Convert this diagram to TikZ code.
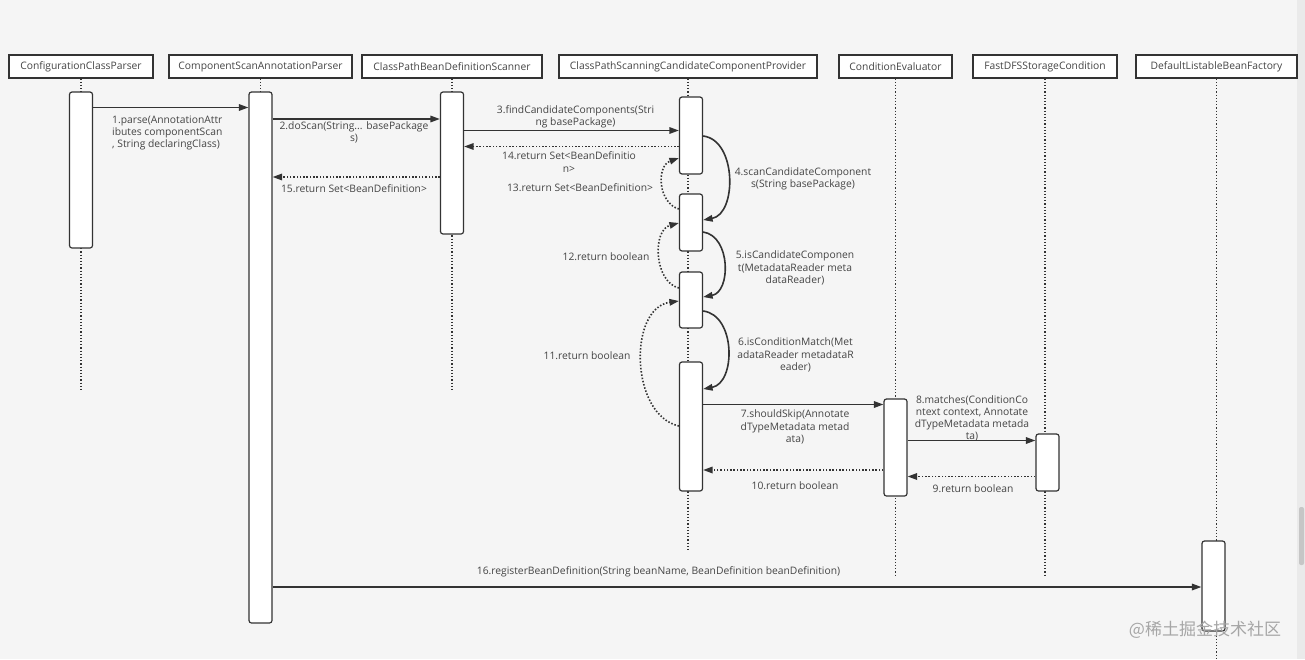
\documentclass[tikz,border=0pt]{standalone}
\usepackage{fontspec}
\setmainfont{Open Sans}
\newfontfamily\cjkfont{Noto Sans CJK SC}
\usetikzlibrary{arrows.meta}
\definecolor{bg}{HTML}{F5F5F5}
\definecolor{ink}{HTML}{333333}
\definecolor{txt}{HTML}{444444}
\definecolor{sbar}{HTML}{EAEAEA}
\definecolor{sthumb}{HTML}{C6C6C6}
\begin{document}
\begin{tikzpicture}[x=1pt,y=-1pt,
  every node/.style={font=\fontsize{10.3}{12.2}\selectfont, text=txt},
  head/.style={draw=ink, fill=white, line width=1.1pt, minimum height=23pt, inner sep=0pt},
  act/.style={draw=ink, fill=white, line width=1.2pt, rounded corners=2.5pt, minimum width=23pt, inner sep=0pt},
  life/.style={draw=ink, line width=1.3pt, dash pattern=on 1.3pt off 1.9pt},
  msg/.style={draw=ink, line width=1.6pt, -{Triangle[length=9.5pt,width=6.5pt]}},
  ret/.style={msg, dash pattern=on 1.5pt off 1.8pt},
  lbl/.style={align=center, inner sep=0pt},
]
\useasboundingbox (0,0) rectangle (1305,659);
\fill[bg] (0,0) rectangle (1305,659);
% scrollbar
\fill[sbar] (1297,0) rectangle (1305,659);
\fill[sthumb, rounded corners=2pt] (1299,507) rectangle (1304,565);

% headers
\node[head, minimum width=144pt] (h1) at (81,66.5) {ConfigurationClassParser};
\node[head, minimum width=183pt] (h2) at (260.5,66.5) {ComponentScanAnnotationParser};
\node[head, minimum width=180pt] (h3) at (452,66.5) {ClassPathBeanDefinitionScanner};
\node[head, minimum width=258pt] (h4) at (688,66.5) {ClassPathScanningCandidateComponentProvider};
\node[head, minimum width=113pt] (h5) at (895.5,66.5) {ConditionEvaluator};
\node[head, minimum width=144pt] (h6) at (1045,66.5) {FastDFSStorageCondition};
\node[head, minimum width=161pt] (h7) at (1216.5,66.5) {DefaultListableBeanFactory};

% lifeline ends
\coordinate (e1) at (81,392);
\coordinate (e2) at (260.5,600);
\coordinate (e3) at (452,392);
\coordinate (e4) at (688,552);
\coordinate (e5) at (895.5,575);
\coordinate (e6) at (1045,575);
\coordinate (e7) at (1216.5,659);
\foreach \i in {1,...,7} \draw[life] (h\i.south) -- (e\i);

% activations
\node[act, minimum height=156pt] (a1) at (81,170) {};
\node[act, minimum height=531pt] (a2) at (260.5,357.5) {};
\node[act, minimum height=142pt] (a3) at (452,163) {};
\node[act, minimum height=77pt] (p1) at (691,135.5) {};
\node[act, minimum height=57pt] (p2) at (691,222.5) {};
\node[act, minimum height=56pt] (p3) at (691,300) {};
\node[act, minimum height=129pt] (p4) at (691,426.5) {};
\node[act, minimum height=97pt] (c1) at (895.5,447.5) {};
\node[act, minimum height=57pt] (f1) at (1047.5,462.5) {};
\node[act, minimum height=90pt] (d1) at (1213.5,586) {};

% messages
\draw[msg] (a1.east |- 0,107.5) -- (a2.west |- 0,107.5);
\node[lbl, align=left, anchor=west] (l1) at (112,133) {1.parse(AnnotationAttr\\ibutes componentScan\\, String declaringClass)};

\draw[msg] (a2.east |- 0,119) -- (a3.west |- 0,119);
\node[lbl] (l2) at (354,132) {2.doScan(String... basePackage\\s)};

\draw[msg] (a3.east |- 0,130.5) -- (p1.west |- 0,130.5);
\node[lbl] (l3) at (575.5,116.5) {3.findCandidateComponents(Stri\\ng basePackage)};

\draw[ret] (p1.west |- 0,146.5) -- (a3.east |- 0,146.5);
\node[lbl] (l14) at (569,162) {14.return Set<BeanDefinitio\\n>};

\draw[ret] (a3.west |- 0,177) -- (a2.east |- 0,177);
\node[lbl] (l15) at (354,189) {15.return Set<BeanDefinition>};

\draw[msg] (p1.east |- 0,136) .. controls (737,140) and (737,214) .. (p2.east |- 0,220);
\node[lbl] (l4) at (803,179) {4.scanCandidateComponent\\s(String basePackage)};

\draw[ret] (p2.west |- 0,209) .. controls (658,203) and (656,166) .. (p1.west |- 0,158);
\node[lbl] (l13) at (580,188) {13.return Set<BeanDefinition>};

\draw[msg] (p2.east |- 0,232) .. controls (731,236) and (731,292) .. (p3.east |- 0,297);
\node[lbl] (l5) at (795,268) {5.isCandidateComponen\\t(MetadataReader meta\\dataReader)};

\draw[ret] (p3.west |- 0,288) .. controls (654,282) and (652,230) .. (p2.west |- 0,223);
\node[lbl] (l12) at (606,257) {12.return boolean};

\draw[msg] (p3.east |- 0,311) .. controls (736,315) and (736,383) .. (p4.east |- 0,389);
\node[lbl] (l6) at (795.5,355) {6.isConditionMatch(Met\\adataReader metadataR\\eader)};

\draw[ret] (p4.west |- 0,426) .. controls (630,415) and (628,308) .. (p3.west |- 0,301);
\node[lbl] (l11) at (587,356) {11.return boolean};

\draw[msg] (p4.east |- 0,404.5) -- (c1.west |- 0,404.5);
\node[lbl] (l7) at (795,427) {7.shouldSkip(Annotate\\dTypeMetadata metad\\ata)};

\node[lbl] (l8) at (972,418.5) {8.matches(ConditionCo\\ntext context, Annotate\\dTypeMetadata metada\\ta)};
\draw[msg] (c1.east |- 0,440.5) -- (f1.west |- 0,440.5);

\draw[ret] (c1.west |- 0,470) -- (p4.east |- 0,470);
\node[lbl] (l10) at (795,486) {10.return boolean};

\draw[ret] (f1.west |- 0,476.5) -- (c1.east |- 0,476.5);
\node[lbl] (l9) at (973,489) {9.return boolean};

\draw[msg] (a2.east |- 0,587) -- (d1.west |- 0,587);
\node[lbl] (l16) at (658.5,572) {16.registerBeanDefinition(String beanName, BeanDefinition beanDefinition)};

% watermark
\node[inner sep=0pt, font=\cjkfont\fontsize{17}{17}\selectfont, text=black!35] (wm) at (1205,630) {@稀土掘金技术社区};
\end{tikzpicture}
\end{document}
